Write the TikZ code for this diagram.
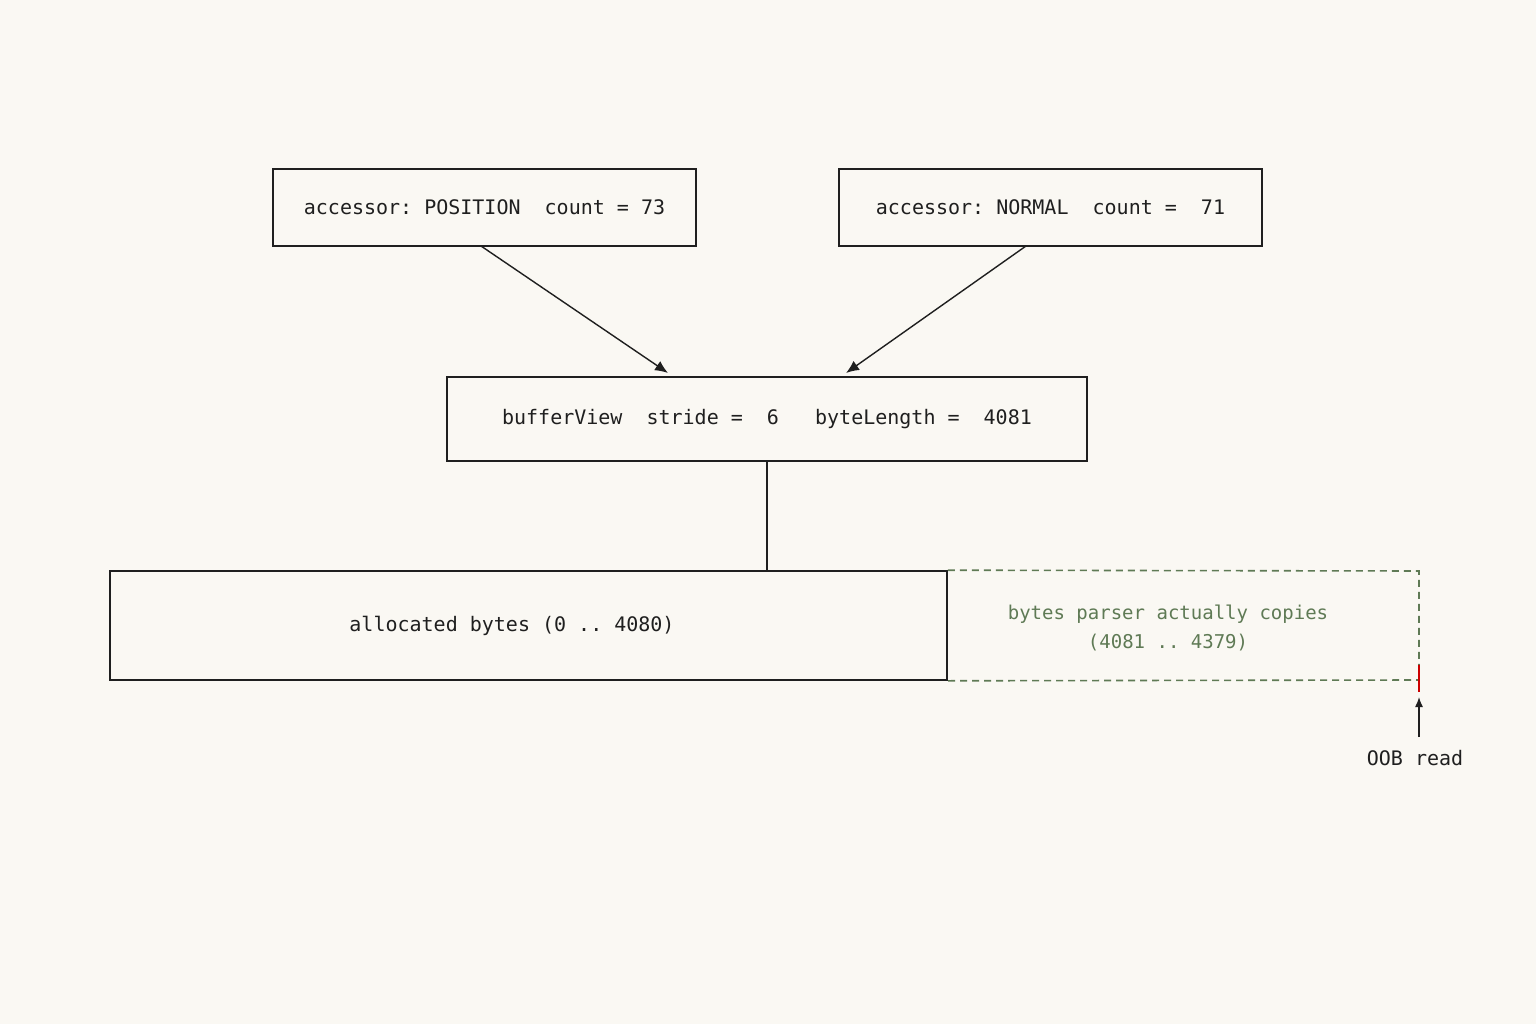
\documentclass[tikz,border=0pt]{standalone}
\usepackage{fontspec}
\setmonofont{DejaVu Sans Mono}
\usetikzlibrary{arrows.meta}
\definecolor{dgreen}{RGB}{95,122,85}
\begin{document}
\begin{tikzpicture}[x=1pt,y=-1pt,
  box/.style={draw=black!88,line width=1.6pt,inner sep=0,font=\ttfamily\fontsize{20}{24}\selectfont,text=black!88},
  dpath/.style={draw=dgreen,dash pattern=on 7pt off 5pt,line width=1.6pt},
  arr/.style={-{Latex[length=13pt,width=11pt]},line width=1.4pt,draw=black!88}]
\fill[fill={rgb,255:red,250;green,248;blue,243}] (0,0) rectangle (1536,1024);
\useasboundingbox (0,0) rectangle (1536,1024);
\node[box,minimum width=423pt,minimum height=77pt] (a) at (484.5,207.5) {accessor: POSITION\ \ count = 73};
\node[box,minimum width=423pt,minimum height=77pt] (b) at (1050.5,207.5) {accessor: NORMAL\ \ count =\ \ 71};
\node[box,minimum width=640pt,minimum height=84pt] (c) at (767,419) {bufferView\ \ stride =\ \ 6\ \ \ byteLength =\ \ 4081};
\node[box,minimum width=837pt,minimum height=109pt] (d) at (528.5,625.5) {};
\node[font=\ttfamily\fontsize{20}{24}\selectfont,text=black!88] (dt) at (512,626) {allocated bytes (0 .. 4080)};
\coordinate (e1) at (1419,571); \coordinate (e2) at (1419,680);
\draw[dpath] (d.north east) -- (e1) -- (e2) -- (d.south east);
\node[font=\ttfamily\fontsize{19}{29}\selectfont,text=dgreen,align=center] (et) at (1168,628) {bytes parser actually copies\\(4081 .. 4379)};
\coordinate (a1) at (481,246); \coordinate (a2) at (668,373);
\coordinate (b1) at (1026,246); \coordinate (b2) at (846,373);
\draw[arr] (a1) -- (a2);
\draw[arr] (b1) -- (b2);
\draw[line width=1.4pt,black!88] (c.south) -- (d.north -| c.south);
\coordinate (r1) at (1419,665); \coordinate (r2) at (1419,692);
\draw[red!80!black,line width=1.8pt] (r1) -- (r2);
\node[font=\ttfamily\fontsize{20}{24}\selectfont,text=black!88] (oob) at (1415,758) {OOB read};
\coordinate (o1) at (1419,737); \coordinate (o2) at (1419,697);
\draw[-{Latex[length=10pt,width=8pt]},line width=1.4pt,black!88] (o1) -- (o2);
\end{tikzpicture}
\end{document}
